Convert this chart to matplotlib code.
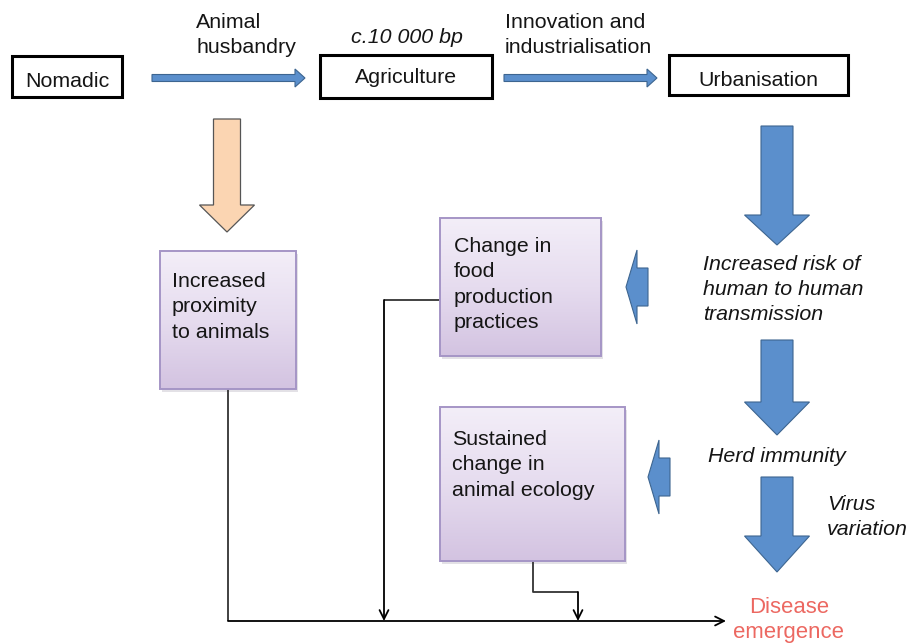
import numpy as np
import matplotlib
matplotlib.use("Agg")
import matplotlib.pyplot as plt
from matplotlib.patches import Rectangle, FancyArrow
from matplotlib.colors import LinearSegmentedColormap

plt.rcParams['font.family'] = ['Liberation Sans', 'DejaVu Sans']

# stages along the top, with the transition labels between them
STAGES = ["Nomadic", "Agriculture", "Urbanisation"]
TRANSITIONS = [["Animal", "husbandry"], ["Innovation and", "industrialisation"]]
DATE_NOTE = "c.10 000 bp"

# purple boxes (consequences)
BOX_TEXTS = [
    ["Increased", "proximity", "to animals"],
    ["Change in", "food", "production", "practices"],
    ["Sustained", "change in", "animal ecology"],
]

# italic steps down the right side
RIGHT_STEPS = [["Increased risk of", "human to human", "transmission"],
               ["Herd immunity"],
               ["Virus", "variation"]]
OUTCOME = ["Disease", "emergence"]

W, H = 907, 643
BLUE = "#5b8fcc"
BLUE_EDGE = "#3d6590"
PEACH = "#fbd5b2"
LINE = "#333333"
FS = 15.4

fig = plt.figure(figsize=(W / 100, H / 100), dpi=100)
ax = fig.add_axes([0, 0, 1, 1])
ax.set_xlim(0, W)
ax.set_ylim(H, 0)
ax.axis("off")

# ---- top row of stage boxes
stage_boxes = [(12, 56, 110, 41, 87), (320, 55, 172, 43, 83), (669, 55, 179, 40, 86)]
for name, (x, y, w, h, base) in zip(STAGES, stage_boxes):
    ax.add_patch(Rectangle((x, y), w, h, fill=False, ec="black", lw=2.2, zorder=3))
    ax.text(x + w / 2, base, name, ha="center", va="baseline", fontsize=FS, color="#151515")

ax.text(407, 43, DATE_NOTE, ha="center", va="baseline", fontsize=FS, style="italic", color="#151515")

# thin blue arrows between stages
for (x0, x1), lab, lx in zip([(152, 305), (504, 657)], TRANSITIONS, [196, 505]):
    ax.add_patch(FancyArrow(x0, 78, x1 - x0, 0, width=7, head_width=18, head_length=10,
                            length_includes_head=True, fc=BLUE, ec=BLUE_EDGE, lw=0.8))
    for i, t in enumerate(lab):
        ax.text(lx, 28 + i * 25, t, ha="left", va="baseline", fontsize=FS, color="#151515")

# peach arrow down from nomadic/animal husbandry
ax.add_patch(FancyArrow(227, 119, 0, 113, width=27, head_width=55, head_length=27,
                        length_includes_head=True, fc=PEACH, ec="#555555", lw=0.9))

# ---- purple gradient boxes
cmap = LinearSegmentedColormap.from_list("lav", ["#f3eef8", "#e6dcef", "#d3c3e1"])
grad = np.linspace(0, 1, 256).reshape(-1, 1)
purple_boxes = [(160, 251, 136, 138, 172, 287), (440, 218, 161, 138, 454, 252), (440, 407, 185, 154, 452, 445)]
for lines, (x, y, w, h, tx, ty) in zip(BOX_TEXTS, purple_boxes):
    ax.add_patch(Rectangle((x + 2, y + 3), w, h, fc="#c9c4cf", ec="none", alpha=0.5, zorder=1))
    ax.imshow(grad, cmap=cmap, extent=(x, x + w, y + h, y), aspect="auto", zorder=2)
    ax.add_patch(Rectangle((x, y), w, h, fill=False, ec="#a595c6", lw=1.4, zorder=3))
    for i, t in enumerate(lines):
        ax.text(tx, ty + i * 25.3, t, ha="left", va="baseline", fontsize=FS, color="#151515", zorder=4)

# small blue arrows pointing left into the purple boxes
for tipx, tipy in [(626, 287), (648, 477)]:
    ax.add_patch(FancyArrow(tipx + 22, tipy, -22, 0, width=38, head_width=74, head_length=11,
                            length_includes_head=True, fc=BLUE, ec=BLUE_EDGE, lw=0.8))

# ---- big blue arrows down the right side
for y0, y1, hl in [(126, 245, 30), (340, 435, 33), (477, 572, 36)]:
    ax.add_patch(FancyArrow(777, y0, 0, y1 - y0, width=32, head_width=65, head_length=hl,
                            length_includes_head=True, fc=BLUE, ec=BLUE_EDGE, lw=0.8))

step_pos = [(703, 270), (708, 462), (827, 510)]
for lines, (tx, ty) in zip(RIGHT_STEPS, step_pos):
    for i, t in enumerate(lines):
        ax.text(tx, ty + i * 25, t, ha="left", va="baseline", fontsize=FS, style="italic", color="#151515")

for i, t in enumerate(OUTCOME):
    ax.text(789, 613 + i * 25, t, ha="center", va="baseline", fontsize=FS + 0.5, color="#ec6861")

# ---- connector lines to disease emergence
BASE_Y = 621
kw = dict(color=LINE, lw=1.3, solid_capstyle="butt")
ax.plot([228, 228], [389, BASE_Y], **kw)
ax.annotate("", xy=(726, BASE_Y), xytext=(228, BASE_Y),
            arrowprops=dict(arrowstyle="->", color="black", lw=1.3, mutation_scale=16, shrinkA=0, shrinkB=0))
ax.plot([440, 384], [300, 300], **kw)
ax.annotate("", xy=(384, BASE_Y), xytext=(384, 300),
            arrowprops=dict(arrowstyle="->", color="black", lw=1.3, mutation_scale=16, shrinkA=0, shrinkB=0))
ax.plot([533, 533, 578], [561, 592, 592], **kw)
ax.annotate("", xy=(578, BASE_Y), xytext=(578, 592),
            arrowprops=dict(arrowstyle="->", color="black", lw=1.3, mutation_scale=16, shrinkA=0, shrinkB=0))

fig.savefig("out.png", dpi=100, facecolor="white")
